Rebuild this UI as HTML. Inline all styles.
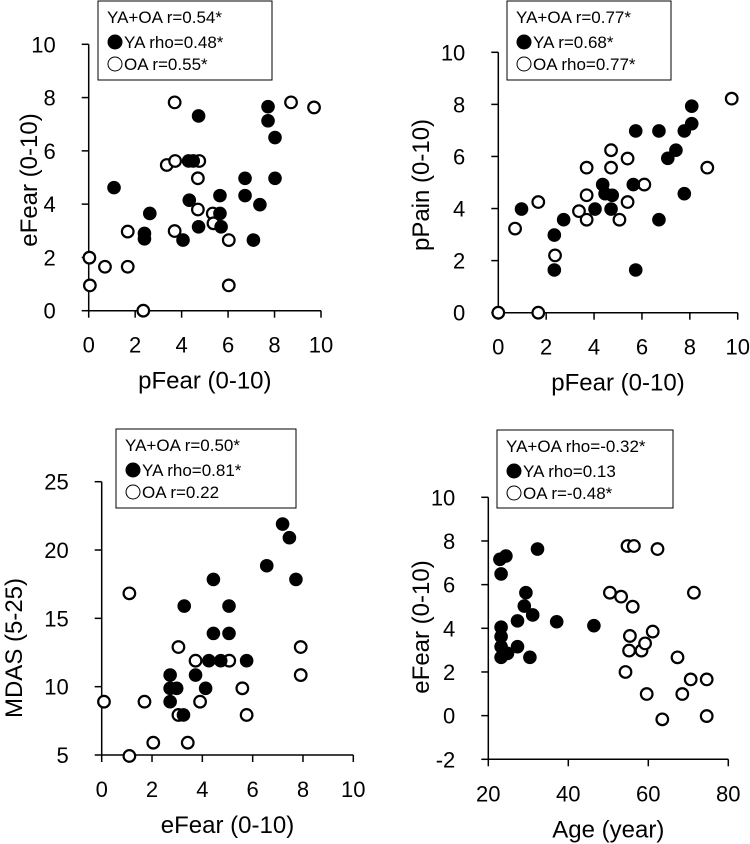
<!DOCTYPE html>
<html><head><meta charset="utf-8"><style>
html,body{margin:0;padding:0;background:#fff}
svg{display:block}
text{font-family:"Liberation Sans",Arial,sans-serif;fill:#000}
</style></head><body>
<svg id="chart" width="750" height="844" viewBox="0 0 750 844"></svg>
<script>
// Panel A: pFear vs eFear
const aYAx=[1.09,2.63,2.4,2.4,4.06,4.33,4.3,4.5,4.73,4.73,5.65,5.65,5.7,6.73,6.73,7.09,7.37,7.72,7.72,8.02,8.02];
const aYAy=[4.62,3.65,2.9,2.7,2.65,4.15,5.62,5.62,3.15,7.31,4.32,3.65,3.15,4.97,4.32,2.65,3.98,7.66,7.13,6.5,4.97];
const aOAx=[0.03,0.05,0.7,1.68,1.68,2.35,3.7,3.36,3.72,3.7,4.76,4.7,4.7,5.34,5.37,6.03,6.03,8.71,9.7];
const aOAy=[1.99,0.95,1.65,1.65,2.97,0,7.82,5.47,5.62,2.99,5.62,4.97,3.8,3.65,3.28,2.65,0.95,7.82,7.63];
const aXTicks=[0,2,4,6,8,10];
const aYTicks=[0,2,4,6,8,10];
const aLegend=["YA+OA r=0.54*","YA rho=0.48*","OA r=0.55*"];
// Panel B: pFear vs pPain
const bYAx=[0.97,2.34,2.34,2.73,4.04,4.36,4.46,4.76,4.71,5.74,5.74,5.64,6.71,6.71,7.08,7.42,7.77,7.77,8.08,8.08];
const bYAy=[3.98,2.98,1.64,3.57,3.98,4.92,4.57,4.51,3.98,6.98,1.64,4.92,6.98,3.57,5.93,6.24,6.98,4.57,7.26,7.93];
const bOAx=[0,1.67,0.7,1.67,2.37,3.37,3.69,3.69,3.69,4.71,4.71,5.06,5.4,5.4,6.1,8.73,9.75];
const bOAy=[0,0,3.23,4.25,2.2,3.9,4.51,5.57,3.57,6.24,5.57,3.57,4.25,5.92,4.92,5.57,8.22];
const bXTicks=[0,2,4,6,8,10];
const bYTicks=[0,2,4,6,8,10];
const bLegend=["YA+OA r=0.77*","YA r=0.68*","OA rho=0.77*"];
// Panel C: eFear vs MDAS
const cYAx=[2.72,2.72,2.72,2.98,3.25,3.28,3.73,4.13,4.26,4.44,4.44,4.73,5.06,5.06,5.76,6.56,7.19,7.46,7.72];
const cYAy=[10.85,9.88,8.9,9.88,7.93,15.9,10.85,9.88,11.9,13.9,17.85,11.9,13.9,15.9,11.9,18.85,21.9,20.9,17.85];
const cOAx=[0.09,1.1,1.1,1.7,2.05,3.05,3.05,3.42,3.73,3.91,5.07,5.59,5.76,7.91,7.91];
const cOAy=[8.9,4.93,16.83,8.9,5.9,7.93,12.9,5.9,11.9,8.9,11.9,9.88,7.93,12.9,10.85];
const cXTicks=[0,2,4,6,8,10];
const cYTicks=[5,10,15,20,25];
const cLegend=["YA+OA r=0.50*","YA rho=0.81*","OA r=0.22"];
// Panel D: Age vs eFear
const dYAx=[22.9,24.4,23.2,23.2,23.2,23.2,23.2,24.8,32.3,29,29.4,31.1,27.3,27.3,30.4,37.1,46.4];
const dYAy=[7.16,7.31,6.49,4.05,3.62,3.16,2.67,2.85,7.63,5.02,5.63,4.61,4.34,3.16,2.67,4.3,4.12];
const dOAx=[50.4,53.2,56.1,54.8,56.4,62.3,55.4,55.2,54.3,58.3,59.2,61.1,59.6,63.5,67.3,68.5,70.6,71.4,74.6,74.6];
const dOAy=[5.63,5.45,4.99,7.77,7.77,7.63,3.65,2.98,2.0,2.98,3.31,3.85,0.99,-0.17,2.67,0.99,1.66,5.63,1.66,-0.02];
const dXTicks=[20,40,60,80];
const dYTicks=[-2,0,2,4,6,8,10];
const dLegend=["YA+OA rho=-0.32*","YA rho=0.13","OA r=-0.48*"];

const NS="http://www.w3.org/2000/svg";
const svg=document.getElementById('chart');
function mk(tag,attrs,parent){const e=document.createElementNS(NS,tag);for(const k in attrs)e.setAttribute(k,attrs[k]);(parent||svg).appendChild(e);return e;}

function panel(p){
  const g=mk('g',{});
  
  
  const sx=v=>p.x0+(v-p.xmin)/(p.xmax-p.xmin)*(p.x1-p.x0);
  const sy=v=>p.y0-(v-p.ymin)/(p.ymax-p.ymin)*(p.y0-p.y1);
  const ax=mk('line',{x1:p.x0,y1:p.y0,x2:p.x1,y2:p.y0,stroke:'#000','stroke-width':1.5},g);
  
  
  const ay=mk('line',{x1:p.x0,y1:p.y0,x2:p.x0,y2:p.y1,stroke:'#000','stroke-width':1.5},g);
  
  
  p.xt.forEach(v=>{
    mk('line',{x1:sx(v),y1:p.y0,x2:sx(v),y2:p.y0+7,stroke:'#000','stroke-width':1.5},g);
    const t=mk('text',{x:sx(v),y:p.y0+42,'font-size':22,'text-anchor':'middle'},g);
    t.textContent=v;
    
    
  });
  p.yt.forEach(v=>{
    mk('line',{x1:p.x0-7,y1:sy(v),x2:p.x0,y2:sy(v),stroke:'#000','stroke-width':1.5},g);
    const t=mk('text',{x:p.x0-33,y:sy(v)+8,'font-size':22,'text-anchor':'end'},g);
    t.textContent=v;
    
    
  });
  const xt=mk('text',{x:(p.x0+p.x1)/2,y:p.y0+78,'font-size':24,'text-anchor':'middle'},g);
  xt.textContent=p.xlab;
  
  
  const yt=mk('text',{x:0,y:0,'font-size':24,'text-anchor':'middle',transform:`translate(${p.ytx},${p.yty}) rotate(-90)`},g);
  yt.textContent=p.ylab;
  
  
  p.oax.forEach((v,i)=>{
    const c=mk('circle',{cx:sx(v),cy:sy(p.oay[i]),r:5.8,fill:'#fff',stroke:'#000','stroke-width':2.2},g);
    
    
  });
  p.yax.forEach((v,i)=>{
    const c=mk('circle',{cx:sx(v),cy:sy(p.yay[i]),r:6.8,fill:'#000'},g);
    
    
  });
  const lg=mk('g',{},g);
  
  
  const [lx,ly,lw,lh]=p.leg;
  mk('rect',{x:lx,y:ly,width:lw,height:lh,fill:'#fff',stroke:'#000','stroke-width':1},lg);
  const t0=mk('text',{x:lx+9,y:ly+22,'font-size':17},lg);t0.textContent=p.lt[0];
  
  
  mk('circle',{cx:lx+17,cy:ly+41,r:7.5,fill:'#000'},lg);
  const t1=mk('text',{x:lx+26,y:ly+47,'font-size':17},lg);t1.textContent=p.lt[1];
  
  
  mk('circle',{cx:lx+17,cy:ly+63,r:7,fill:'#fff',stroke:'#000','stroke-width':1},lg);
  const t2=mk('text',{x:lx+26,y:ly+69,'font-size':17},lg);t2.textContent=p.lt[2];
  
  
}
panel({name:'panel-pfear-efear',x0:88.7,x1:321,y0:310.7,y1:44.3,xmin:0,xmax:10,ymin:0,ymax:10,xt:aXTicks,yt:aYTicks,
  yax:aYAx,yay:aYAy,oax:aOAx,oay:aOAy,xlab:'pFear (0-10)',ylab:'eFear (0-10)',ytx:37,yty:180,leg:[98,1,174,79],lt:aLegend});
panel({name:'panel-pfear-ppain',x0:498.3,x1:737.7,y0:312.7,y1:52.3,xmin:0,xmax:10,ymin:0,ymax:10,xt:bXTicks,yt:bYTicks,
  yax:bYAx,yay:bYAy,oax:bOAx,oay:bOAy,xlab:'pFear (0-10)',ylab:'pPain (0-10)',ytx:429,yty:185,leg:[507,1,164,79],lt:bLegend});
panel({name:'panel-efear-mdas',x0:101.7,x1:353.3,y0:755,y1:481.7,xmin:0,xmax:10,ymin:5,ymax:25,xt:cXTicks,yt:cYTicks,
  yax:cYAx,yay:cYAy,oax:cOAx,oay:cOAy,xlab:'eFear (0-10)',ylab:'MDAS (5-25)',ytx:22,yty:648,leg:[116,429,180,79],lt:cLegend});
panel({name:'panel-age-efear',x0:488.3,x1:728.3,y0:759.3,y1:497.3,xmin:20,xmax:80,ymin:-2,ymax:10,xt:dXTicks,yt:dYTicks,
  yax:dYAx,yay:dYAy,oax:dOAx,oay:dOAy,xlab:'Age (year)',ylab:'eFear (0-10)',ytx:429,yty:627,leg:[497,430,176,78],lt:dLegend});
</script>
</body></html>
